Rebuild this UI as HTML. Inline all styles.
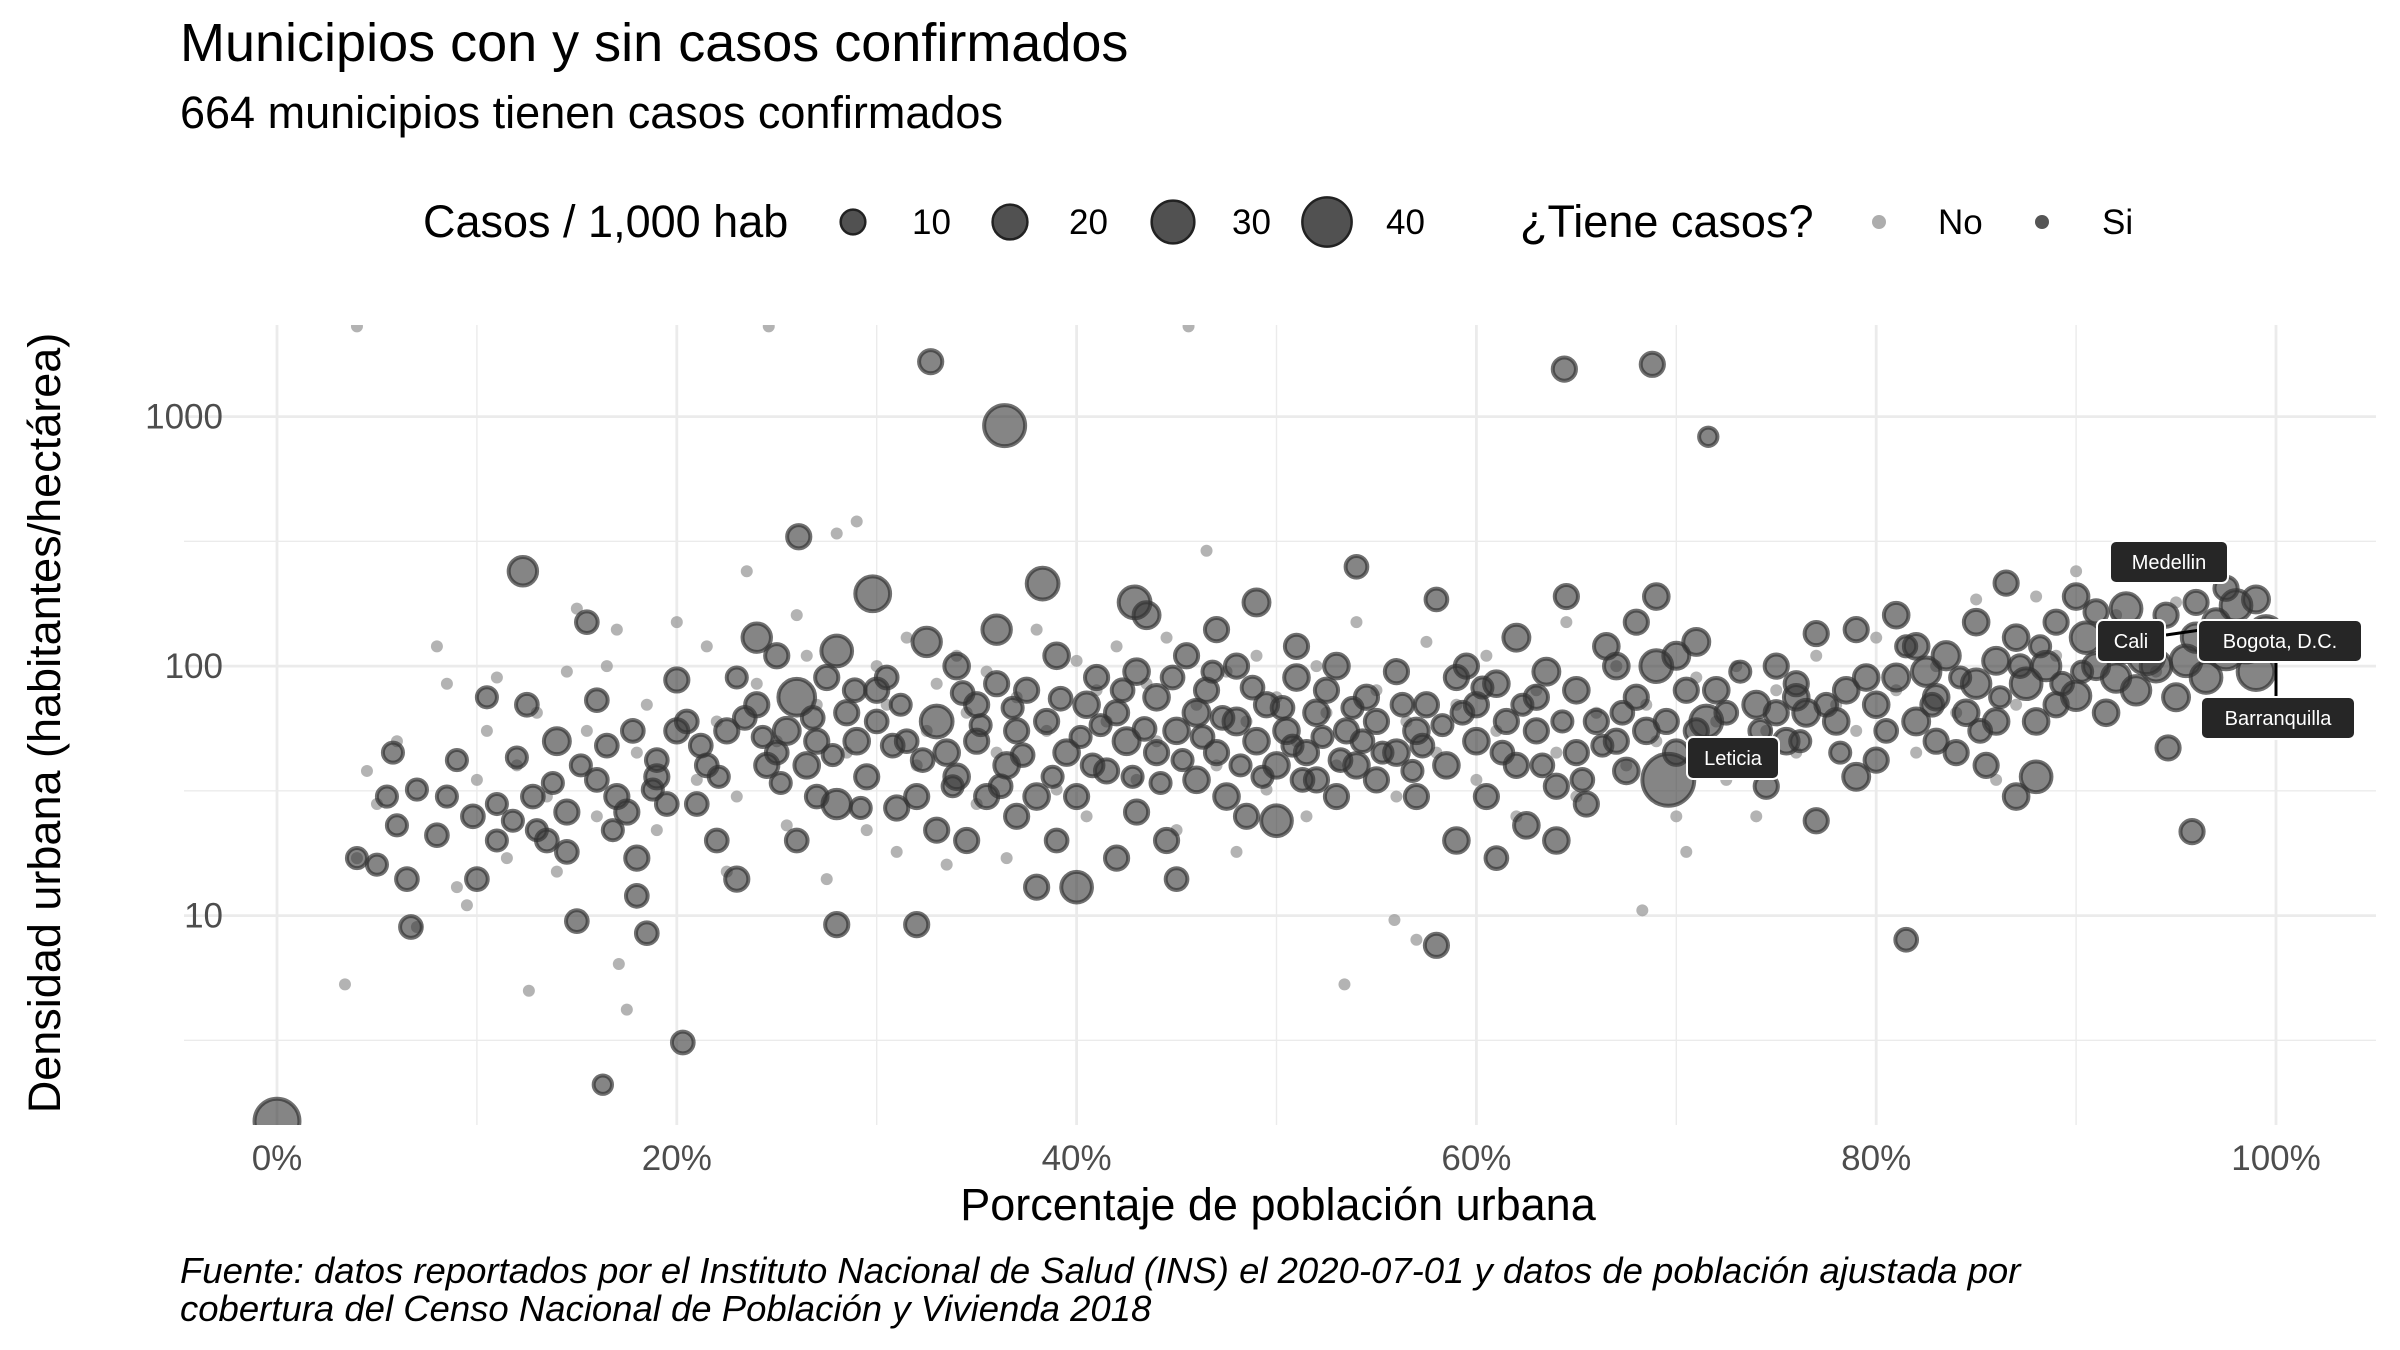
<!DOCTYPE html>
<html><head><meta charset="utf-8">
<style>
html,body{margin:0;padding:0;background:#fff;}
svg{display:block;font-family:"Liberation Sans",sans-serif;}
</style></head>
<body>
<svg id="chart" width="2400" height="1350" viewBox="0 0 2400 1350" xmlns="http://www.w3.org/2000/svg">
<text x="180" y="61" font-size="54" fill="#000">Municipios con y sin casos confirmados</text>
<text x="180" y="128" font-size="45" fill="#000">664 municipios tienen casos confirmados</text>
<g id="legend">
<text x="423" y="237" font-size="45" fill="#000">Casos / 1,000 hab</text>
<text x="1520" y="237" font-size="45" fill="#000">¿Tiene casos?</text>
</g>
<g id="grid"></g>
<g id="nopts"></g>
<g id="sipts"></g>
<g id="labels"></g>
<g id="axes"></g>
<text x="1278" y="1220" font-size="45" fill="#000" text-anchor="middle">Porcentaje de población urbana</text>
<text transform="translate(60,723) rotate(-90)" font-size="45" fill="#000" text-anchor="middle">Densidad urbana (habitantes/hectárea)</text>
<text x="180" y="1283" font-size="36.5" font-style="italic" fill="#000">Fuente: datos reportados por el Instituto Nacional de Salud (INS) el 2020-07-01 y datos de población ajustada por</text>
<text x="180" y="1321" font-size="36.5" font-style="italic" fill="#000">cobertura del Censo Nacional de Población y Vivienda 2018</text>
</svg>
<script>
// Data: [pct urban, density, cases per 1000]
const siPoints = [[0,1.5,30],[32.7,1660,8],[36.4,920,25],[64.4,1550,8],[68.8,1620,8],[71.6,830,5],[81.5,8,7],[95.8,21.7,8],[20.3,3.1,7],[16.3,2.1,5],[12.3,240,12],[29.8,195,18],[38.3,214,15],[26.1,330,8],[54,250,7],[42.9,180,15],
[4,17,6],[5,16,6],[5.5,30,6],[5.8,45,6],[6,23,6],[6.5,14,7],[6.7,9,7],[7,32,6],[8,21,7],[9,42,6],[10,14,7],[10.5,75,6],[11,20,6],[11,28,6],[12,43,6],[12.5,70,7],[13,22,6],[13.5,20,7],[14,50,10],[14.5,26,8],[14.5,18,7],[15,9.5,7],[15.5,150,7],[16,73,7],[16,35,7],[16.5,48,7],[17,30,8],[17.5,26,8],[18,17,8],[18,12,7],[18.5,8.5,7],[19,42,7],[19,36,8],[20,55,8],[20,88,8],[20.5,60,7],[21,28,7],[21.5,40,7],[22,20,7],[22.5,55,8],[23,90,6],[23,14,8],[24,130,12],[24,70,8],[24.5,40,8],[25,45,7],[25,110,8],[25.5,55,10],[26,75,20],[26,20,7],[26.5,40,9],[27,50,8],[27,30,7],[27.5,90,8],[28,115,14],[28,28,12],[28,9.2,8],[28.5,65,8],[29,50,9],[29.5,36,8],[30,80,8],[30,60,7],[30.5,90,7],[31,27,8],[31.5,50,7],[32,30,8],[32,9.2,8],[32.5,125,12],[33,22,8],[33,60,15],[33.5,45,9],[34,100,9],[34,36,9],[34.5,20,8],[35,70,8],[35,50,8],[35.5,30,8],[36,140,12],[36,85,8],[36.5,40,9],[37,25,8],[37,55,8],[37.5,80,8],[38,30,9],[38,13,8],[38.5,60,8],[39,110,9],[39,20,7],[39.5,45,9],[40,13,14],[40,30,8],[40.5,70,9],[41,90,8],[41.5,38,8],[42,65,8],[42,17,8],[42.5,50,10],[43,95,9],[43,26,8],[43.5,160,10],[44,45,8],[44,75,9],[44.5,20,8],[45,55,9],[45,14,7],[45.5,110,8],[46,35,9],[46,65,10],[46.5,80,8],[47,45,8],[47,140,8],[47.5,30,9],[48,60,10],[48,100,8],[48.5,25,8],[49,50,9],[49,180,10],[49.5,70,8],[50,40,9],[50,24,14],[50.5,55,9],[51,120,8],[51,90,9],[51.5,45,8],[52,35,8],[52,65,9],[52.5,80,8],[53,30,8],[53,100,9],[53.5,55,8],[54,40,9],[54.5,75,8],[55,35,8],[55,60,8],[56,45,9],[56,95,8],[57,30,8],[57,55,9],[57.5,70,8],[58,7.6,8],[58,185,7],[58.5,40,9],[59,20,9],[59,90,8],[59.5,100,8],[60,50,9],[60,70,8],[60.5,30,8],[61,85,9],[61,17,7],[61.5,60,8],[62,40,8],[62,130,10],[62.5,23,9],[63,75,8],[63,55,8],[63.5,95,10],[64,33,8],[64,20,9],[64.5,190,8],[65,45,8],[65,80,9],[65.5,28,8],[66,60,8],[66.5,120,9],[67,50,8],[67,100,9],[67.5,38,9],[68,75,8],[68,150,8],[68.5,55,9],[69,190,9],[69,100,15],[69.6,35,40],[69.5,60,8],[70,45,9],[70,110,10],[70.5,80,8],[71,125,10],[71,55,8],[71.5,60,15],[72,80,9],[73,45,8],[73.5,40,9],[74,70,10],[74.5,33,8],[75,65,8],[75,100,8],[75.5,50,9],[76,75,9],[76,85,8],[76.5,65,10],[77,135,8],[77,24,8],[78,60,9],[78.5,80,9],[79,140,8],[79,36,10],[79.5,90,9],[80,42,8],[80,70,9],[81,160,9],[81,90,10],[82,120,9],[82,60,10],[82.5,95,12],[83,75,9],[83,50,8],[83.5,110,11],[84,45,8],[84.5,65,9],[85,150,9],[85,85,12],[85.5,40,8],[86,105,10],[86,60,9],[86.5,215,8],[87,30,9],[87,130,9],[87.5,85,14],[88,36,14],[88,60,9],[88.5,100,12],[89,150,8],[89,70,8],[90,190,9],[90,76,12],[90.5,130,14],[91,100,10],[91,165,8],[91.5,65,9],[92,90,12],[92.3,125,25],[92.5,170,14],[93,80,12],[93.5,110,20],[94,100,14],[94.6,47,8],[94.5,160,8],[95,75,10],[95.5,105,14],[96,130,12],[96,180,8],[96.5,90,14],[97,150,10],[97.5,115,20],[97.5,205,8],[98,175,14],[98.5,125,25],[99,95,20],[99,185,10],[99.5,135,18],
[21.2,48,7],[22.1,36,6],[23.4,62,7],[24.3,52,6],[25.2,34,6],[26.8,62,7],[27.8,44,6],[28.9,80,7],[29.2,27,6],[30.8,48,7],[31.2,70,6],[32.3,42,7],[33.8,33,6],[34.3,78,7],[35.2,58,6],[36.2,33,7],[36.8,68,6],[37.3,44,7],[38.8,36,6],[39.2,74,7],[40.2,52,6],[40.8,40,7],[41.2,58,6],[42.3,80,7],[42.8,36,6],[43.4,56,7],[44.2,34,6],[44.8,90,7],[45.3,42,6],[46.3,52,7],[46.8,95,6],[47.3,62,7],[48.2,40,6],[48.8,82,7],[49.3,36,6],[50.3,68,7],[50.8,48,6],[51.3,35,7],[52.3,52,6],[53.2,42,7],[53.8,68,6],[54.3,50,7],[55.3,45,6],[56.3,70,7],[56.8,38,6],[57.3,48,7],[58.3,58,6],[59.3,65,7],[60.3,82,6],[61.3,45,7],[62.3,70,6],[63.3,40,7],[64.3,60,6],[65.3,35,7],[66.3,48,6],[67.3,65,7],[15.2,40,6],[16.8,22,6],[17.8,55,7],[18.8,32,6],[19.5,28,7],[13.8,34,6],[12.8,30,7],[11.8,24,6],[9.8,25,7],[8.5,30,6],[72.5,65,7],[73.2,95,6],[74.2,55,7],[76.2,50,6],[77.5,70,7],[78.2,45,6],[80.5,55,7],[81.5,120,6],[82.8,70,7],[84.2,90,6],[85.2,55,7],[86.2,75,6],[87.2,100,7],[88.2,120,6],[89.3,85,7],[90.3,95,6]];
// [pct urban, density]
const noPoints = [[3.4,5.3],[4,2300],[4,17],[4.5,38],[5,28],[6,50],[7,9],[8,120],[8.5,85],[9,13],[9.5,11],[10,35],[10.5,55],[11,90],[11.5,17],[12,40],[12.6,5],[13,65],[13.5,30],[14,15],[14.5,95],[15,170],[15.5,55],[16,25],[16.5,100],[17.1,6.4],[17.5,4.2],[17,140],[18,45],[18.5,70],[19,22],[20,150],[21,35],[21.5,120],[22,60],[22.5,15],[23,30],[23.5,240],[24.6,2300],[24,85],[25,50],[25.5,23],[26,160],[26.5,110],[27,70],[27.5,14],[28,340],[28.5,45],[29,380],[29.5,22],[30,100],[30.5,70],[31,18],[31.5,130],[32,40],[32.5,55],[33,85],[33.5,16],[34,110],[34.5,65],[35,28],[35.5,95],[36,45],[36.5,17],[37,75],[38,140],[38.5,55],[39,32],[40,105],[40.5,25],[41,80],[41.5,60],[42,120],[43,35],[43.5,85],[44,50],[44.5,130],[45,22],[45.6,2300],[46,70],[46.5,290],[47,40],[47.5,95],[48,18],[48.5,60],[49,110],[49.5,32],[50,75],[51,50],[51.5,25],[52,100],[52.5,65],[53.4,5.3],[53,40],[54,150],[55,80],[55.9,9.6],[56,30],[56.5,60],[57,8],[57.5,125],[58,45],[59,70],[60,35],[60.5,110],[61,55],[62,25],[63,80],[64,45],[64.5,150],[65,30],[66,65],[67,100],[67.5,40],[68.3,10.5],[68.5,70],[69,50],[70,25],[70.5,18],[71,90],[72,60],[72.5,35],[73,100],[74,25],[74.5,55],[75,80],[76,45],[77,110],[78,70],[79,55],[80,130],[81,80],[82,45],[83,100],[84,65],[85,185],[86,35],[87,70],[88,190],[89,110],[90,240],[92,160],[94,95],[95,180]];
const xTicks = [0,20,40,60,80,100];
const xTickLabels = ["0%","20%","40%","60%","80%","100%"];
const yTicks = [10,100,1000];
const yTickLabels = ["10","100","1000"];
const sizeLegendValues = [10,20,30,40];
const cityNames = ["Medellin","Cali","Bogota, D.C.","Barranquilla","Leticia"];

const NS="http://www.w3.org/2000/svg";
const PL=184,PR=2376,PT=325,PB=1125;
const X0=277,X100=2276,Y10=915.6,DEC=249.5;
function sx(p){return X0+(X100-X0)*p/100;}
function sy(v){return Y10-DEC*(Math.log10(v)-1);}
function rr(c){return 4.1*Math.sqrt(c);}
function mk(tag,attrs,parent){const e=document.createElementNS(NS,tag);for(const k in attrs)e.setAttribute(k,attrs[k]);parent.appendChild(e);return e;}

const grid=document.getElementById('grid');
[10,30,50,70,90].forEach(p=>{const l=mk('line',{x1:sx(p),x2:sx(p),y1:PT,y2:PB,stroke:'#ebebeb','stroke-width':1.4},grid);

});
[Math.sqrt(10),Math.sqrt(1000),Math.sqrt(100000)].forEach(v=>{const l=mk('line',{x1:PL,x2:PR,y1:sy(v),y2:sy(v),stroke:'#ebebeb','stroke-width':1.4},grid);

});
xTicks.forEach((p,i)=>{const l=mk('line',{x1:sx(p),x2:sx(p),y1:PT,y2:PB,stroke:'#ebebeb','stroke-width':2.8},grid);

});
yTicks.forEach(v=>{const l=mk('line',{x1:PL,x2:PR,y1:sy(v),y2:sy(v),stroke:'#ebebeb','stroke-width':2.8},grid);

});

const axes=document.getElementById('axes');
xTicks.forEach((p,i)=>{const t=mk('text',{x:sx(p),y:1170,'font-size':35,fill:'#4d4d4d','text-anchor':'middle'},axes);t.textContent=xTickLabels[i];

});
yTicks.forEach((v,i)=>{const t=mk('text',{x:223,y:sy(v)+12,'font-size':35,fill:'#4d4d4d','text-anchor':'end'},axes);t.textContent=yTickLabels[i];

});

const clip=mk('clipPath',{id:'pc'},document.getElementById('chart'));
mk('rect',{x:PL-30,y:PT,width:PR-PL+60,height:PB-PT},clip);
const nog=document.getElementById('nopts');nog.setAttribute('clip-path','url(#pc)');
noPoints.forEach(d=>{const c=mk('circle',{cx:sx(d[0]),cy:sy(d[1]),r:6,fill:'#999','fill-opacity':0.75},nog);

});
const sig=document.getElementById('sipts');sig.setAttribute('clip-path','url(#pc)');
siPoints.forEach(d=>{const c=mk('circle',{cx:sx(d[0]),cy:sy(d[1]),r:rr(d[2]),fill:'#333','fill-opacity':0.6,stroke:'#333','stroke-opacity':0.7,'stroke-width':4},sig);

});

// labels: [centerX, centerY, width]
const lab=document.getElementById('labels');
const boxes=[[2169,562,118],[2131,641,68],[2280,641,164],[2278,718,154],[1733,758,92]];
mk('line',{x1:2166,y1:635,x2:2235,y2:625,stroke:'#000','stroke-width':3},lab);
mk('line',{x1:2276,y1:662,x2:2276,y2:697,stroke:'#000','stroke-width':3},lab);
cityNames.forEach((n,i)=>{const b=boxes[i];
const r=mk('rect',{x:b[0]-b[2]/2,y:b[1]-21,width:b[2],height:42,rx:6,fill:'#262626',stroke:'#fff','stroke-width':2},lab);


const t=mk('text',{x:b[0],y:b[1]+7,'font-size':20,fill:'#fff','text-anchor':'middle'},lab);t.textContent=n;

});

// legend
const lg=document.getElementById('legend');
const lx=[853,1010,1173,1327];
sizeLegendValues.forEach((v,i)=>{const c=mk('circle',{cx:lx[i],cy:222,r:rr(v)*0.95,fill:'#333','fill-opacity':0.85,stroke:'#222','stroke-width':2.5},lg);


const t=mk('text',{x:lx[i]+59,y:234,'font-size':35,fill:'#000'},lg);t.textContent=v;

});
const a=mk('circle',{cx:1879,cy:222,r:7,fill:'#999','fill-opacity':0.8},lg);


const b=mk('circle',{cx:2042,cy:222,r:7,fill:'#555'},lg);


const t1=mk('text',{x:1938,y:234,'font-size':35,fill:'#000'},lg);t1.textContent='No';


const t2=mk('text',{x:2102,y:234,'font-size':35,fill:'#000'},lg);t2.textContent='Si';


</script>
</body></html>
